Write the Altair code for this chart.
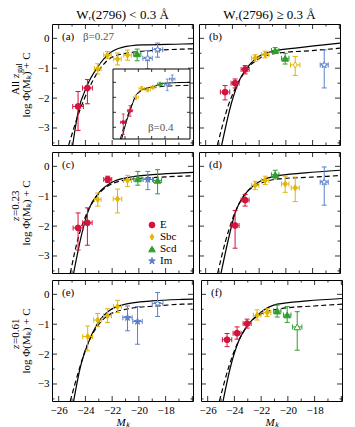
import altair as alt
import pandas as pd

# ---------------- values ----------------
TYPES = ["E", "Sbc", "Scd", "Im"]
TYPE_COLORS = ["#d3143c", "#e3b505", "#2f9e2f", "#5b80c8"]

# (a) all z_gal, Wr < 0.3
a_type = ["E", "E", "Sbc", "Sbc", "Sbc", "Sbc", "Scd", "Im", "Im"]
a_M = [-24.55, -23.85, -23.08, -22.35, -21.60, -20.85, -20.13, -19.35, -18.60]
a_v = [-2.28, -1.66, -1.02, -0.56, -0.69, -0.56, -0.52, -0.67, -0.38]
a_lo = [-3.08, -2.19, -1.19, -0.68, -0.89, -0.73, -0.75, -1.02, -0.63]
a_hi = [-1.78, -1.38, -0.85, -0.44, -0.49, -0.39, -0.36, -0.41, -0.16]
a_xerr = [0.40, 0.37, 0.25, 0.28, 0.28, 0.28, 0.28, 0.35, 0.38]
a_open = [0, 0, 0, 0, 0, 0, 0, 1, 1]
a_sol_M = [-24.95, -24.55, -23.87, -23.10, -22.25, -21.25, -19.75, -16.75, -15.95]
a_sol_v = [-3.57, -2.47, -1.58, -0.97, -0.52, -0.30, -0.22, -0.19, -0.18]
a_das_M = [-25.25, -24.38, -23.75, -23.00, -22.00, -20.50, -18.25, -15.95]
a_das_v = [-3.57, -2.36, -1.69, -1.08, -0.63, -0.47, -0.39, -0.35]

# inset of (a), beta = 0.4
i_type = ["E", "E", "Sbc", "Sbc", "Sbc", "Sbc", "Scd", "Im", "Im"]
i_M = [-24.26, -23.25, -22.35, -21.50, -20.60, -19.76, -18.75, -17.66, -16.91]
i_v = [-2.66, -1.89, -1.00, -0.40, -0.51, -0.33, -0.11, -0.16, 0.22]
i_lo = [-3.49, -2.26, -1.15, -0.52, -0.63, -0.45, -0.23, -0.56, 0.00]
i_hi = [-2.11, -1.56, -0.85, -0.28, -0.39, -0.21, 0.01, 0.22, 0.49]
i_xerr = [0.40, 0.40, 0.40, 0.40, 0.40, 0.40, 0.40, 0.40, 0.40]
i_open = [0, 0, 0, 0, 0, 0, 0, 1, 1]
i_sol_M = [-24.50, -23.75, -23.15, -22.50, -21.50, -19.76, -18.26, -14.25]
i_sol_v = [-3.78, -2.56, -1.78, -1.00, -0.49, -0.29, -0.06, 0.00]
i_das_M = [-24.70, -23.90, -23.20, -22.50, -21.50, -19.76, -18.26, -14.25]
i_das_v = [-3.78, -2.60, -1.75, -1.02, -0.55, -0.36, -0.27, -0.20]

# (b) all z_gal, Wr >= 0.3
b_type = ["E", "E", "E", "Sbc", "Sbc", "Scd", "Scd", "Sbc", "Im"]
b_M = [-24.55, -23.80, -23.05, -22.30, -21.55, -20.80, -20.05, -19.30, -17.13]
b_v = [-1.80, -1.50, -1.04, -0.66, -0.54, -0.41, -0.67, -0.89, -0.89]
b_lo = [-2.06, -1.66, -1.19, -0.77, -0.65, -0.51, -0.86, -1.24, -1.66]
b_hi = [-1.58, -1.36, -0.91, -0.55, -0.43, -0.31, -0.50, -0.61, -0.39]
b_xerr = [0.35, 0.30, 0.30, 0.28, 0.28, 0.28, 0.28, 0.35, 0.30]
b_open = [0, 0, 0, 0, 0, 0, 0, 1, 1]
b_sol_M = [-24.80, -24.05, -23.43, -23.05, -22.30, -21.05, -19.30, -15.95]
b_sol_v = [-3.57, -2.13, -1.36, -1.08, -0.69, -0.44, -0.33, -0.16]
b_das_M = [-25.12, -24.30, -23.55, -22.80, -21.80, -20.55, -18.05, -15.95]
b_das_v = [-3.57, -2.24, -1.47, -0.97, -0.63, -0.49, -0.41, -0.33]

# (c) z = 0.23, Wr < 0.3
c_type = ["E", "E", "E", "Sbc", "Sbc", "Sbc", "Scd", "Im", "Scd"]
c_M = [-24.55, -23.85, -22.33, -23.08, -21.60, -20.85, -20.08, -19.33, -18.60]
c_v = [-2.06, -1.89, -0.44, -1.11, -1.09, -0.47, -0.42, -0.44, -0.47]
c_lo = [-2.80, -2.64, -0.54, -1.33, -1.56, -0.67, -0.63, -0.78, -0.92]
c_hi = [-1.56, -1.39, -0.33, -0.89, -0.76, -0.30, -0.17, -0.17, -0.11]
c_xerr = [0.37, 0.35, 0.30, 0.25, 0.32, 0.30, 0.30, 0.35, 0.30]
c_open = [0, 0, 0, 0, 0, 0, 0, 0, 0]
c_sol_M = [-24.88, -24.25, -23.75, -23.00, -22.00, -20.75, -19.00, -16.75, -15.95]
c_sol_v = [-3.57, -2.22, -1.44, -0.89, -0.53, -0.37, -0.28, -0.22, -0.20]
c_das_M = [-25.13, -24.50, -23.88, -23.25, -22.25, -20.75, -18.75, -16.75, -15.95]
c_das_v = [-3.57, -2.33, -1.56, -1.06, -0.64, -0.44, -0.37, -0.33, -0.32]

# (d) z = 0.23, Wr >= 0.3
d_type = ["E", "E", "Sbc", "Sbc", "Scd", "Sbc", "Sbc", "Im"]
d_M = [-23.80, -23.05, -22.30, -21.55, -20.80, -20.05, -19.30, -17.13]
d_v = [-1.98, -1.13, -0.63, -0.47, -0.28, -0.59, -0.72, -0.53]
d_lo = [-2.74, -1.33, -0.78, -0.61, -0.42, -0.87, -1.18, -1.30]
d_hi = [-1.48, -0.94, -0.50, -0.33, -0.13, -0.33, -0.36, -0.02]
d_xerr = [0.30, 0.30, 0.28, 0.28, 0.28, 0.28, 0.30, 0.30]
d_open = [0, 0, 0, 0, 0, 0, 0, 1]
d_sol_M = [-24.85, -24.30, -23.80, -23.05, -22.05, -20.80, -18.55, -15.95]
d_sol_v = [-3.57, -2.44, -1.56, -0.94, -0.53, -0.33, -0.22, -0.13]
d_das_M = [-25.10, -24.55, -23.92, -23.18, -22.05, -20.55, -18.05, -15.95]
d_das_v = [-3.57, -2.56, -1.67, -1.00, -0.61, -0.42, -0.36, -0.31]

# (e) z = 0.61, Wr < 0.3
e_type = ["Sbc", "Sbc", "Sbc", "Sbc", "Im", "Im", "Im"]
e_M = [-23.83, -23.08, -22.35, -21.60, -20.85, -20.10, -18.60]
e_v = [-1.41, -0.86, -0.72, -0.41, -0.78, -0.91, -0.31]
e_lo = [-1.89, -1.08, -0.94, -0.61, -1.22, -1.67, -0.74]
e_hi = [-1.06, -0.64, -0.48, -0.20, -0.39, -0.41, 0.06]
e_xerr = [0.37, 0.30, 0.30, 0.30, 0.35, 0.35, 0.40]
e_open = [0, 0, 0, 0, 0, 0, 1]
e_sol_M = [-24.88, -24.38, -23.83, -23.13, -22.25, -21.00, -19.00, -16.75, -15.95]
e_sol_v = [-3.57, -2.44, -1.67, -1.00, -0.56, -0.33, -0.22, -0.17, -0.16]
e_das_M = [-25.13, -24.50, -23.88, -23.25, -22.25, -20.75, -18.75, -16.75, -15.95]
e_das_v = [-3.57, -2.56, -1.72, -1.17, -0.69, -0.48, -0.39, -0.33, -0.32]

# (f) z = 0.61, Wr >= 0.3
f_type = ["E", "E", "E", "Sbc", "Sbc", "Scd", "Scd", "Scd"]
f_M = [-24.55, -23.80, -23.05, -22.30, -21.55, -20.80, -20.05, -19.30]
f_v = [-1.52, -1.30, -0.98, -0.70, -0.61, -0.56, -0.69, -1.09]
f_lo = [-1.75, -1.50, -1.13, -0.86, -0.74, -0.76, -0.94, -1.87]
f_hi = [-1.31, -1.09, -0.83, -0.52, -0.48, -0.36, -0.41, -0.58]
f_xerr = [0.35, 0.30, 0.30, 0.28, 0.28, 0.28, 0.28, 0.35]
f_open = [0, 0, 0, 0, 0, 0, 0, 1]
f_sol_M = [-24.85, -24.30, -23.68, -23.05, -22.05, -20.80, -18.55, -15.95]
f_sol_v = [-3.57, -2.44, -1.56, -1.06, -0.61, -0.33, -0.22, -0.14]
f_das_M = [-25.12, -24.43, -23.80, -23.05, -22.05, -20.55, -18.05, -15.95]
f_das_v = [-3.57, -2.44, -1.67, -1.06, -0.67, -0.48, -0.39, -0.33]

# axes / ticks
X_DOMAIN = [-26.5, -15.95]
Y_DOMAIN = [-3.57, 0.48]
X_LABELS = [-26, -24, -22, -20, -18]
X_MAJOR = [-26, -24, -22, -20, -18, -16]
X_MINOR = [-25, -23, -21, -19, -17]
Y_MAJOR = [-3, -2, -1, 0]
Y_MINOR = [-3.5, -2.5, -1.5, -0.5]
INSET_X_DOMAIN = [-25.8, -14.25]
INSET_Y_DOMAIN = [-3.78, 0.89]
INSET_X_TICKS = [-24, -22, -20, -18, -16]
INSET_Y_TICKS = [-3, -2, -1, 0]

# ---------------- layout / style ----------------
W, H = 141, 121
FONT = "Liberation Serif"
INSET_XR = [61, 138]
INSET_YR = [115, 45]
STAR = ("M0,-1L0.235,-0.324L0.951,-0.309L0.38,0.124L0.588,0.809L0,0.4"
        "L-0.588,0.809L-0.38,0.124L-0.951,-0.309L-0.235,-0.324Z")
DIAM = "M0,-1L0.62,0L0,1L-0.62,0Z"
COLOR_SCALE = alt.Scale(domain=TYPES, range=TYPE_COLORS)
FILL_SCALE = alt.Scale(domain=TYPES + ["open"], range=TYPE_COLORS + ["white"])
SHAPE_SCALE = alt.Scale(domain=TYPES, range=["circle", DIAM, "triangle-up", STAR])
SIZE_SCALE = alt.Scale(domain=TYPES, range=[34, 48, 34, 58])


def make_df(types, M, v, lo, hi, xerr, opn):
    df = pd.DataFrame({"type": types, "M": M, "v": v, "lo": lo, "hi": hi,
                       "xerr": xerr, "open": opn})
    df["xlo"] = df["M"] - df["xerr"]
    df["xhi"] = df["M"] + df["xerr"]
    df["fillkey"] = ["open" if o else t for t, o in zip(types, opn)]
    return df


def encoders(xs, ys, xaxis, yaxis):
    def X(f):
        return alt.X(f"{f}:Q", scale=xs, axis=xaxis)

    def Y(f):
        return alt.Y(f"{f}:Q", scale=ys, axis=yaxis)
    return X, Y


def tick_layers(X, Y, xmaj, xmin, ymaj, ymin, box, lmaj, lmin, sw=0.8):
    x0, x1, y0, y1 = box  # left, right, top, bottom (pixels)
    out = []
    for vals, L in ((xmaj, lmaj), (xmin, lmin)):
        if not vals:
            continue
        d = pd.DataFrame({"M": vals})
        out.append(alt.Chart(d).mark_rule(color="black", strokeWidth=sw).encode(
            x=X("M"), y=alt.value(y0), y2=alt.value(y0 + L)))
        out.append(alt.Chart(d).mark_rule(color="black", strokeWidth=sw).encode(
            x=X("M"), y=alt.value(y1), y2=alt.value(y1 - L)))
    for vals, L in ((ymaj, lmaj), (ymin, lmin)):
        if not vals:
            continue
        d = pd.DataFrame({"v": vals})
        out.append(alt.Chart(d).mark_rule(color="black", strokeWidth=sw).encode(
            y=Y("v"), x=alt.value(x0), x2=alt.value(x0 + L)))
        out.append(alt.Chart(d).mark_rule(color="black", strokeWidth=sw).encode(
            y=Y("v"), x=alt.value(x1), x2=alt.value(x1 - L)))
    return out


def curve_layers(X, Y, sM, sV, dM, dV, sw=1.2):
    s = pd.DataFrame({"M": sM, "v": sV})
    d = pd.DataFrame({"M": dM, "v": dV})
    return [
        alt.Chart(d).mark_line(color="black", strokeWidth=sw, strokeDash=[5, 3],
                               interpolate="monotone", clip=True).encode(x=X("M"), y=Y("v")),
        alt.Chart(s).mark_line(color="black", strokeWidth=sw,
                               interpolate="monotone", clip=True).encode(x=X("M"), y=Y("v")),
    ]


def data_layers(df, X, Y, cap=5, sw=1.0, size=None):
    base = alt.Chart(df)
    col = alt.Color("type:N", scale=COLOR_SCALE, legend=None)
    sz = size if size is not None else alt.Size("type:N", scale=SIZE_SCALE, legend=None)
    return [
        base.mark_rule(strokeWidth=sw).encode(x=X("M"), y=Y("lo"), y2="hi", color=col),
        base.mark_rule(strokeWidth=sw).encode(x=X("xlo"), x2="xhi", y=Y("v"), color=col),
        base.mark_tick(orient="horizontal", size=cap, thickness=sw, opacity=1).encode(
            x=X("M"), y=Y("lo"), color=col),
        base.mark_tick(orient="horizontal", size=cap, thickness=sw, opacity=1).encode(
            x=X("M"), y=Y("hi"), color=col),
        base.mark_tick(orient="vertical", size=cap, thickness=sw, opacity=1).encode(
            x=X("xlo"), y=Y("v"), color=col),
        base.mark_tick(orient="vertical", size=cap, thickness=sw, opacity=1).encode(
            x=X("xhi"), y=Y("v"), color=col),
        base.mark_point(filled=True, opacity=1, strokeWidth=sw).encode(
            x=X("M"), y=Y("v"),
            fill=alt.Fill("fillkey:N", scale=FILL_SCALE, legend=None),
            stroke=alt.Stroke("type:N", scale=COLOR_SCALE, legend=None),
            shape=alt.Shape("type:N", scale=SHAPE_SCALE, legend=None),
            size=sz),
    ]


def text_layer(txt, x, y, size=11, color="black", align="left", style="normal",
               angle=0, baseline="middle"):
    return alt.Chart(pd.DataFrame({"t": [txt]})).mark_text(
        align=align, baseline=baseline, fontSize=size, font=FONT, color=color,
        fontStyle=style, angle=angle).encode(x=alt.value(x), y=alt.value(y), text="t:N")


def panel(df, sM, sV, dM, dV, label, show_x, show_y, extra=None, inset=None):
    xs = alt.Scale(domain=X_DOMAIN, nice=False, zero=False)
    ys = alt.Scale(domain=Y_DOMAIN, nice=False, zero=False)
    xaxis = alt.Axis(values=X_LABELS, ticks=False, domain=False, grid=False,
                     labelPadding=3, format="d", labelFlush=False,
                     title="Mₖ", titleFontStyle="italic", titlePadding=1) if show_x else None
    yaxis = alt.Axis(values=Y_MAJOR, ticks=False, domain=False, grid=False,
                     labelPadding=3, format="d", labelFlush=False,
                     title="log Φ(Mₖ) + C", titlePadding=6) if show_y else None
    X, Y = encoders(xs, ys, xaxis, yaxis)
    layers = tick_layers(X, Y, X_MAJOR, X_MINOR, Y_MAJOR, Y_MINOR, (0, W, 0, H), 5, 2.5)
    layers += curve_layers(X, Y, sM, sV, dM, dV)
    layers += data_layers(df, X, Y)
    layers.append(text_layer(label, 10, 13))
    if extra:
        layers += extra
    main = alt.layer(*layers)
    if inset is not None:
        return alt.layer(main, inset).resolve_scale(
            x="independent", y="independent").properties(width=W, height=H)
    return main.properties(width=W, height=H)


def make_inset():
    xs = alt.Scale(domain=INSET_X_DOMAIN, range=INSET_XR, nice=False, zero=False)
    ys = alt.Scale(domain=INSET_Y_DOMAIN, range=INSET_YR, nice=False, zero=False)
    X, Y = encoders(xs, ys, None, None)
    frame = pd.DataFrame({"x0": [INSET_X_DOMAIN[0]], "x1": [INSET_X_DOMAIN[1]],
                          "y0": [INSET_Y_DOMAIN[0]], "y1": [INSET_Y_DOMAIN[1]]})
    layers = [alt.Chart(frame).mark_rect(fill="white", stroke="black", strokeWidth=1).encode(
        x=X("x0"), x2="x1", y=Y("y0"), y2="y1")]
    layers += tick_layers(X, Y, INSET_X_TICKS, [], INSET_Y_TICKS, [],
                          (INSET_XR[0], INSET_XR[1], INSET_YR[1], INSET_YR[0]), 3, 0)
    layers += curve_layers(X, Y, i_sol_M, i_sol_v, i_das_M, i_das_v, sw=1.0)
    df = make_df(i_type, i_M, i_v, i_lo, i_hi, i_xerr, i_open)
    layers += data_layers(df, X, Y, cap=3, sw=0.8, size=alt.value(12))
    layers.append(text_layer("β=0.4", 96, 104, color="#555555"))
    return alt.layer(*layers)


def legend_layers():
    out = []
    leg = pd.DataFrame({"type": TYPES})
    for i, t in enumerate(TYPES):
        sub = alt.Chart(leg).transform_filter(alt.datum.type == t)
        out.append(sub.mark_point(filled=True, opacity=1, strokeWidth=1).encode(
            x=alt.value(100), y=alt.value(73 + 12 * i),
            fill=alt.Fill("type:N", scale=FILL_SCALE, legend=None),
            stroke=alt.Stroke("type:N", scale=COLOR_SCALE, legend=None),
            shape=alt.Shape("type:N", scale=SHAPE_SCALE, legend=None),
            size=alt.Size("type:N", scale=SIZE_SCALE, legend=None)))
        out.append(sub.mark_text(align="left", baseline="middle", fontSize=11,
                                 font=FONT, color="black").encode(
            x=alt.value(108), y=alt.value(73 + 12 * i), text="type:N"))
    return out


def row_label(prefix, subscript=None):
    # rotated row label left of the y axis title
    out = []
    if subscript:
        out.append(text_layer("All", -33, 71, angle=270, baseline="alphabetic"))
        out.append(text_layer("z", -33, 54, angle=270, baseline="alphabetic", style="italic"))
        out.append(text_layer(subscript, -30, 49, size=8, angle=270, baseline="alphabetic"))
    else:
        out.append(text_layer("z", -33, 69, angle=270, baseline="alphabetic", style="italic"))
        out.append(text_layer(prefix, -33, 64, angle=270, baseline="alphabetic"))
    return out


pa = panel(make_df(a_type, a_M, a_v, a_lo, a_hi, a_xerr, a_open),
           a_sol_M, a_sol_v, a_das_M, a_das_v, "(a)", False, True,
           extra=[text_layer("β=0.27", 31, 13, color="#555555")] + row_label("", "gal"),
           inset=make_inset())
pb = panel(make_df(b_type, b_M, b_v, b_lo, b_hi, b_xerr, b_open),
           b_sol_M, b_sol_v, b_das_M, b_das_v, "(b)", False, False)
pc = panel(make_df(c_type, c_M, c_v, c_lo, c_hi, c_xerr, c_open),
           c_sol_M, c_sol_v, c_das_M, c_das_v, "(c)", False, True,
           extra=legend_layers() + row_label("=0.23"))
pd_ = panel(make_df(d_type, d_M, d_v, d_lo, d_hi, d_xerr, d_open),
            d_sol_M, d_sol_v, d_das_M, d_das_v, "(d)", False, False)
pe = panel(make_df(e_type, e_M, e_v, e_lo, e_hi, e_xerr, e_open),
           e_sol_M, e_sol_v, e_das_M, e_das_v, "(e)", True, True,
           extra=row_label("=0.61"))
pf = panel(make_df(f_type, f_M, f_v, f_lo, f_hi, f_xerr, f_open),
           f_sol_M, f_sol_v, f_das_M, f_das_v, "(f)", True, False)

pa = pa.properties(title=alt.TitleParams("Wᵣ(2796) < 0.3 Å"))
pb = pb.properties(title=alt.TitleParams("Wᵣ(2796) ≥ 0.3 Å"))

chart = alt.vconcat(
    alt.hconcat(pa, pb, spacing=4),
    alt.hconcat(pc, pd_, spacing=4),
    alt.hconcat(pe, pf, spacing=4),
    spacing=5,
).properties(padding={"left": 1, "top": 0, "right": 0, "bottom": 0}).configure(
    font=FONT
).configure_view(stroke="black", strokeWidth=1).configure_axis(
    labelFont=FONT, titleFont=FONT, labelFontSize=11, titleFontSize=11,
    labelColor="black", titleColor="black", titleFontWeight="normal"
).configure_title(font=FONT, fontSize=13, fontWeight="normal", offset=2, color="black")

chart.save("out.html", embed_options={"renderer": "svg", "actions": False})
